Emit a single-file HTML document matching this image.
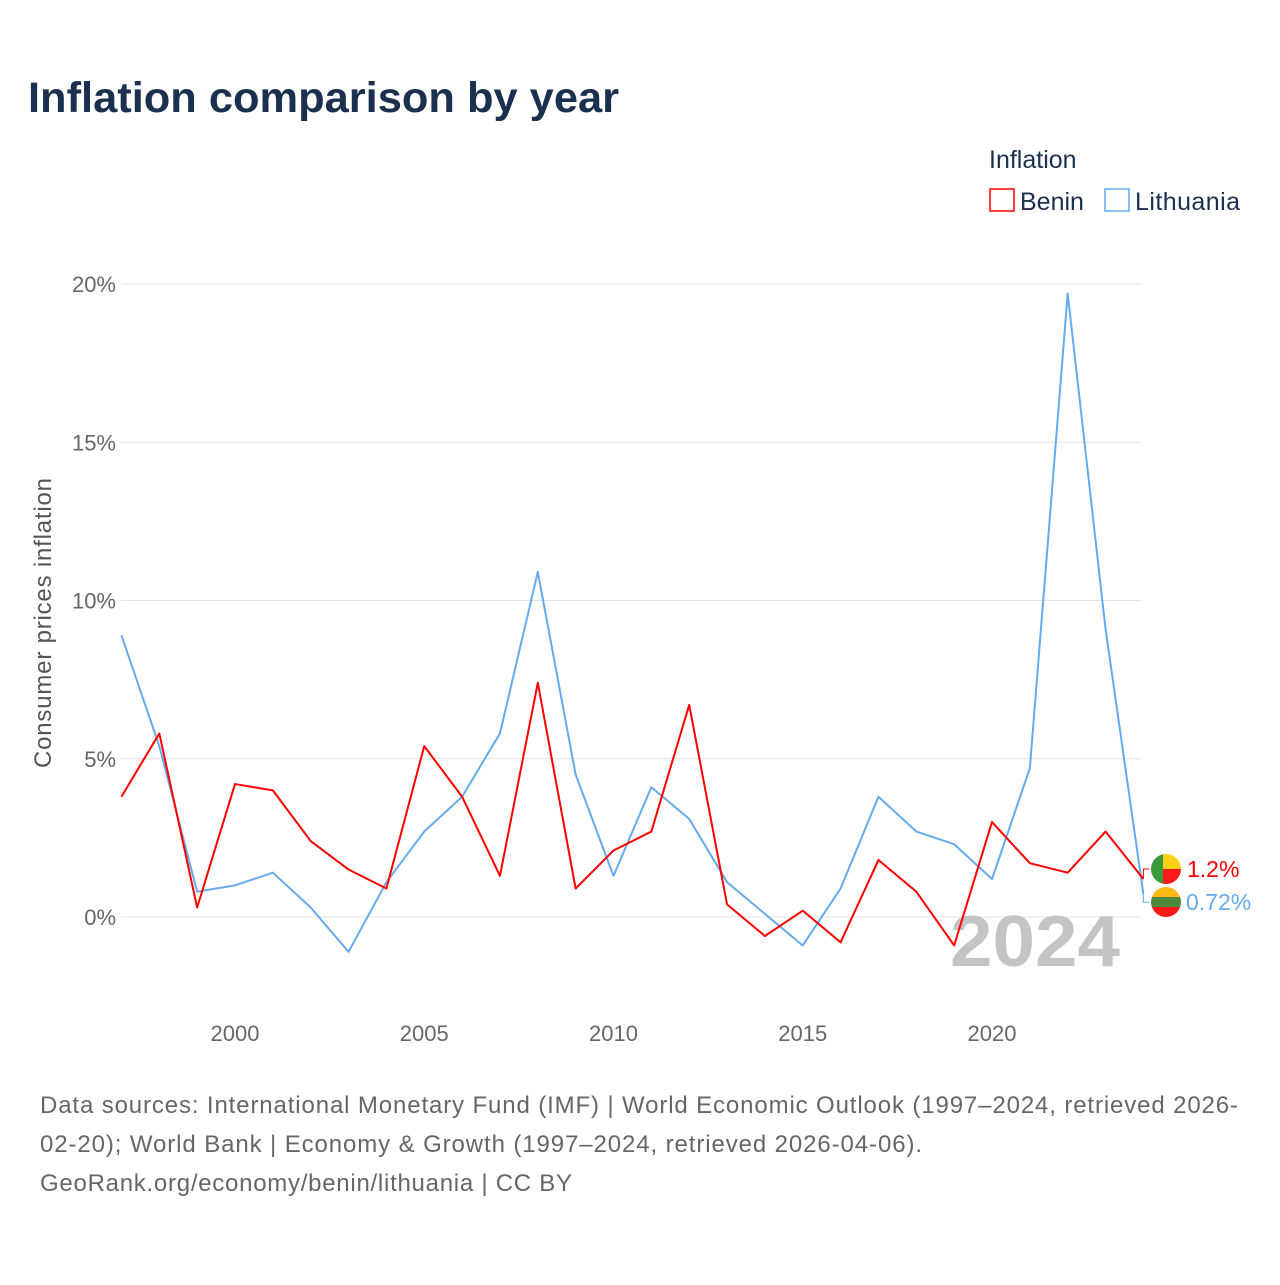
<!DOCTYPE html>
<html><head><meta charset="utf-8">
<style>
body{margin:0;background:#fff;font-family:"Liberation Sans",sans-serif;}
svg text{font-family:"Liberation Sans",sans-serif;}
</style></head>
<body>
<svg id="chart" width="1280" height="1280" viewBox="0 0 1280 1280" xmlns="http://www.w3.org/2000/svg">
<rect width="1280" height="1280" fill="#fff"/>
<text x="28" y="112" font-size="43" font-weight="bold" fill="#1b2f4e" textLength="591" lengthAdjust="spacingAndGlyphs">Inflation comparison by year</text>
<text x="989" y="168" font-size="25" fill="#1b2f4e">Inflation</text>
<g><rect x="990" y="189" width="24" height="22" fill="none" stroke="#ff0000" stroke-width="1.5"/><text x="1020" y="210" font-size="25" fill="#1b2f4e">Benin</text></g>
<g><rect x="1105" y="189" width="24" height="22" fill="none" stroke="#66aaee" stroke-width="1.5"/><text x="1135" y="210" font-size="25" fill="#1b2f4e" textLength="105">Lithuania</text></g>
<text transform="translate(51,623) rotate(-90)" text-anchor="middle" font-size="24" fill="#555" textLength="290">Consumer prices inflation</text>
<g id="grid"></g>
<text x="950" y="966" font-size="72" font-weight="bold" fill="#c4c4c4" textLength="170" lengthAdjust="spacingAndGlyphs">2024</text>
<g id="series"></g>
<text font-size="24" fill="#666"><tspan x="40" y="1113" textLength="1198">Data sources: International Monetary Fund (IMF) | World Economic Outlook (1997–2024, retrieved 2026-</tspan><tspan x="40" y="1152" textLength="882">02-20); World Bank | Economy &amp; Growth (1997–2024, retrieved 2026-04-06).</tspan><tspan x="40" y="1191" textLength="532">GeoRank.org/economy/benin/lithuania | CC BY</tspan></text>
</svg>
<script>
const years=[1997,1998,1999,2000,2001,2002,2003,2004,2005,2006,2007,2008,2009,2010,2011,2012,2013,2014,2015,2016,2017,2018,2019,2020,2021,2022,2023,2024];
const benin=[3.8,5.8,0.3,4.2,4.0,2.4,1.5,0.9,5.4,3.8,1.3,7.4,0.9,2.1,2.7,6.7,0.4,-0.6,0.2,-0.8,1.8,0.8,-0.9,3.0,1.7,1.4,2.7,1.2];
const lithuania=[8.9,5.4,0.8,1.0,1.4,0.3,-1.1,1.1,2.7,3.8,5.8,10.9,4.5,1.3,4.1,3.1,1.1,0.1,-0.9,0.9,3.8,2.7,2.3,1.2,4.7,19.7,9.1,0.72];
const yTicks=[0,5,10,15,20];
const xTicks=[2000,2005,2010,2015,2020];
const NS="http://www.w3.org/2000/svg";
const xs=y=>235+(y-2000)*37.85;
const ys=v=>917-v*31.65;
const grid=document.getElementById('grid'),ser=document.getElementById('series');
function mk(tag,at,parent){const e=document.createElementNS(NS,tag);for(const k in at)e.setAttribute(k,at[k]);parent.appendChild(e);return e;}
yTicks.forEach(t=>{
 const l=mk('line',{x1:121,x2:1141,y1:ys(t),y2:ys(t),stroke:'#e4e4e4','stroke-width':1},grid);
 
 
 const tx=mk('text',{x:116,y:ys(t)+8,'text-anchor':'end','font-size':22,fill:'#666'},grid);
 tx.textContent=t+'%';
 
 
});
xTicks.forEach(t=>{
 const tx=mk('text',{x:xs(t),y:1041,'text-anchor':'middle','font-size':22,fill:'#666'},grid);
 tx.textContent=t;
 
 
});
function line(vals,color,name){
 const p=mk('polyline',{points:vals.map((v,i)=>xs(years[i])+','+ys(v)).join(' '),fill:'none',stroke:color,'stroke-width':2,'stroke-linejoin':'round'},ser);
 
 
}
line(lithuania,'#66aaee','lithuania-line');
line(benin,'#ff0000','benin-line');
const lx=xs(2024);
const bY=ys(benin[benin.length-1]), lY=ys(lithuania[lithuania.length-1]);
const bl=mk('polyline',{points:`${lx},${bY} ${lx},${bY-10} ${lx+6},${bY-10}`,fill:'none',stroke:'#ff0000','stroke-width':1},ser);

const ll=mk('polyline',{points:`${lx},${lY} ${lx},${lY+8} ${lx+6},${lY+8}`,fill:'none',stroke:'#66aaee','stroke-width':1},ser);

const fb=mk('g',{},ser);
mk('clipPath',{id:'cb'},fb);mk('circle',{cx:1166,cy:869,r:15},fb.lastChild);
const gb=mk('g',{'clip-path':'url(#cb)'},fb);
mk('rect',{x:1151,y:854,width:12,height:30,fill:'#3a9a3a'},gb);mk('rect',{x:1163,y:854,width:18,height:15,fill:'#fcd116'},gb);mk('rect',{x:1163,y:869,width:18,height:15,fill:'#ff1a1a'},gb);
const fl=mk('g',{},ser);
mk('clipPath',{id:'cl'},fl);mk('circle',{cx:1166,cy:902,r:15},fl.lastChild);
const gl=mk('g',{'clip-path':'url(#cl)'},fl);
mk('rect',{x:1151,y:887,width:30,height:10,fill:'#fdb913'},gl);mk('rect',{x:1151,y:897,width:30,height:10,fill:'#4b8b3b'},gl);mk('rect',{x:1151,y:907,width:30,height:10,fill:'#ff1a1a'},gl);
const t1=mk('text',{x:1187,y:877,'font-size':23,fill:'#ff0000'},ser);t1.textContent='1.2%';

const t2=mk('text',{x:1186,y:910,'font-size':23,fill:'#66aaee'},ser);t2.textContent='0.72%';

</script>
</body></html>
